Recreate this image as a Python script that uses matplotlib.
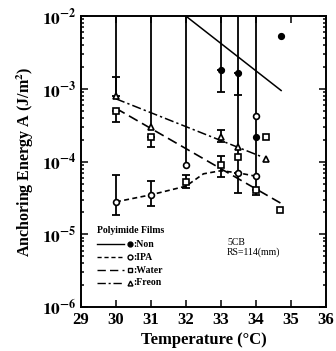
import matplotlib
matplotlib.use("Agg")
import matplotlib.pyplot as plt
import numpy as np

plt.rcParams['font.family'] = ['Liberation Serif', 'DejaVu Serif']
plt.rcParams['mathtext.fontset'] = 'stix'

# --- data ---
# Non (filled circles, solid fit line)
non_T = [33.0, 33.5, 34.0, 34.72]
non_A = [1.8e-3, 1.65e-3, 2.2e-4, 5.3e-3]
non_fit_T = [32.0, 34.72]
non_fit_A = [1.0e-2, 9.5e-4]

# IPA (open circles, short dashed curve)
ipa_T = [30.0, 31.0, 32.0, 33.5, 34.0, 34.0]
ipa_A = [2.8e-5, 3.5e-5, 8.9e-5, 6.9e-5, 6.3e-5, 4.3e-4]
ipa_fit_T = [30.0, 31.0, 32.0, 32.5, 33.0, 33.5, 34.0]
ipa_fit_A = [2.8e-5, 3.5e-5, 4.6e-5, 6.8e-5, 7.5e-5, 7.0e-5, 6.3e-5]

# Water (open squares, long dashed fit line)
water_T = [30.0, 31.0, 32.0, 33.0, 33.5, 34.0, 34.3, 34.7]
water_A = [5.0e-4, 2.2e-4, 5.2e-5, 8.9e-5, 1.15e-4, 4.1e-5, 2.2e-4, 2.15e-5]
water_fit_T = [30.0, 34.7]
water_fit_A = [5.4e-4, 2.7e-5]

# Freon (open triangles, dash-dot fit line)
freon_T = [30.0, 31.0, 33.0, 33.5, 34.3]
freon_A = [7.9e-4, 3.0e-4, 2.2e-4, 1.6e-4, 1.07e-4]
freon_fit_T = [30.0, 34.2]
freon_fit_A = [7.3e-4, 1.15e-4]

# error bars: temperature, lower, upper
err_T = [30.0, 30.0, 31.0, 30.0, 31.0, 32.0, 33.0, 33.0, 33.0, 33.5, 33.5, 34.0]
err_lo = [7.9e-4, 3.5e-4, 1.6e-4, 1.84e-5, 2.45e-5, 4.3e-5, 1.85e-4, 6.1e-5, 9.0e-4, 8.2e-4, 3.7e-5, 3.5e-5]
err_hi = [1.45e-3, 5.0e-4, 2.2e-4, 6.5e-5, 5.4e-5, 6.5e-5, 2.7e-4, 1.2e-4, 1.8e-3, 1.65e-3, 6.9e-5, 4.1e-5]

# error bars running off the top of the chart
open_T = [30.0, 31.0, 32.0, 33.0, 33.5, 34.0]
open_lo = [7.9e-4, 3.0e-4, 8.9e-5, 1.8e-3, 6.9e-5, 4.1e-5]

fig = plt.figure(figsize=(3.36, 3.51), dpi=100)
ax = fig.add_axes([0.241, 0.125, 0.729, 0.829])
ax.set_yscale('log')
ax.set_xlim(29, 36)
ax.set_ylim(1e-6, 1e-2)

k = 'black'
ax.vlines(open_T, open_lo, 1e-2, color=k, lw=1.3)
ax.vlines(err_T, err_lo, err_hi, color=k, lw=1.3)
ax.plot(err_T, err_lo, '_', color=k, ms=6, mew=1.3)
ax.plot(err_T, err_hi, '_', color=k, ms=6, mew=1.3)

ax.plot(non_fit_T, non_fit_A, '-', color=k, lw=1.1)
ax.plot(ipa_fit_T, ipa_fit_A, color=k, lw=1.2, dashes=(3, 2))
ax.plot(water_fit_T, water_fit_A, color=k, lw=1.2, dashes=(6, 3))
ax.plot(freon_fit_T, freon_fit_A, color=k, lw=1.1, dashes=(6, 2, 1.5, 2))

ms = 4.2
ax.plot(non_T, non_A, 'o', color=k, ms=ms)
ax.plot(ipa_T, ipa_A, 'o', mfc='white', mec=k, mew=1.2, ms=ms)
ax.plot(water_T, water_A, 's', mfc='white', mec=k, mew=1.2, ms=ms)
ax.plot(freon_T, freon_A, '^', mfc='white', mec=k, mew=1.2, ms=ms)

ax.set_xticks(range(29, 37))
ax.set_xticklabels([str(t) for t in range(29, 37)], fontsize=12, fontweight='bold')
ax.set_yticks([1e-6, 1e-5, 1e-4, 1e-3, 1e-2])
ax.set_yticklabels([r'$\mathbf{10^{-6}}$', r'$\mathbf{10^{-5}}$', r'$\mathbf{10^{-4}}$',
                    r'$\mathbf{10^{-3}}$', r'$\mathbf{10^{-2}}$'], fontsize=12.5)
ax.tick_params(which='both', direction='in', top=True, right=True, width=1.1)
ax.tick_params(which='major', length=5)
ax.tick_params(which='minor', length=2.5)
ax.tick_params(axis='x', which='minor', bottom=False, top=False)
for s in ax.spines.values():
    s.set_linewidth(1.4)

ax.set_xlabel('Temperature (\u00b0C)', fontsize=12, fontweight='bold', labelpad=3)
ax.set_ylabel('Anchoring Energy A (J/m$^\\mathbf{2}$)', fontsize=11.5, fontweight='bold', labelpad=4)

# legend drawn by hand
tr = ax.transAxes
ax.text(0.065, 0.265, 'Polyimide Films', transform=tr, fontsize=7, fontweight='bold', va='center')
leg_y = [0.216, 0.172, 0.127, 0.083]
leg_styles = [dict(ls='-'), dict(dashes=(3, 2)), dict(dashes=(6, 3)), dict(dashes=(6, 2, 1.5, 2))]
leg_marks = [('o', k), ('o', 'white'), ('s', 'white'), ('^', 'white')]
leg_names = [':Non', ':IPA', ':Water', ':Freon']
for y, st, (m, fc), name in zip(leg_y, leg_styles, leg_marks, leg_names):
    ax.plot([0.065, 0.175], [y, y], color=k, lw=1.0, transform=tr, **st)
    ax.plot([0.2], [y], m, mfc=fc, mec=k, mew=1.0, ms=3.5, transform=tr, color=k)
    ax.text(0.215, y, name, transform=tr, fontsize=7, fontweight='bold', va='center')

ax.text(0.596, 0.223, '5CB', transform=tr, fontsize=7, va='center')
ax.text(0.596, 0.189, 'RS=114(mm)', transform=tr, fontsize=7, va='center')

fig.savefig('out.png', dpi=100)
